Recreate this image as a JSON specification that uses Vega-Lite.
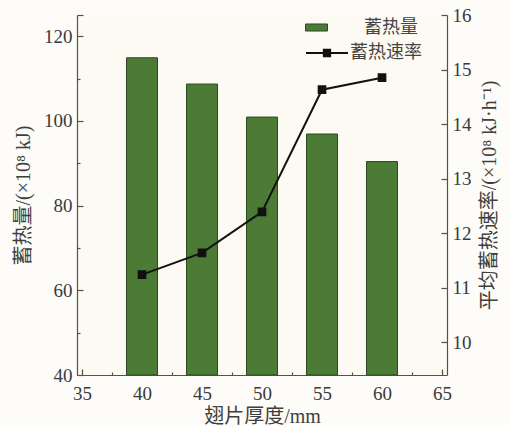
{
  "$schema": "https://vega.github.io/schema/vega-lite/v6.json",
  "width": 370,
  "height": 360,
  "autosize": "none",
  "padding": {"left": 77, "top": 15, "right": 62, "bottom": 51},
  "background": "#fdfcf8",
  "config": {
    "view": {"stroke": null, "fill": "#fcfaf3"},
    "axis": {
      "labelFont": "Liberation Serif",
      "labelFontSize": 19,
      "labelColor": "#3a3a3a",
      "titleFont": "Liberation Serif, Noto Sans CJK SC",
      "titleFontSize": 20,
      "titleFontWeight": "normal",
      "titleColor": "#3f3f3f",
      "domainColor": "#5a5048",
      "tickColor": "#5a5048",
      "domainWidth": 1.2,
      "tickWidth": 1.2,
      "grid": false
    },
    "legend": {
      "labelFont": "Noto Sans CJK SC",
      "labelFontSize": 18,
      "labelColor": "#444444"
    }
  },
  "data": {
    "values": [
      {"t": 40, "q": 114.9, "r": 11.24},
      {"t": 45, "q": 108.7, "r": 11.64},
      {"t": 50, "q": 100.9, "r": 12.39},
      {"t": 55, "q": 96.9, "r": 14.63},
      {"t": 60, "q": 90.4, "r": 14.85}
    ]
  },
  "encoding": {
    "x": {
      "field": "t",
      "type": "quantitative",
      "scale": {"domain": [35, 65], "nice": false, "zero": false},
      "axis": {
        "title": "翅片厚度/mm",
        "values": [35, 37.5, 40, 42.5, 45, 47.5, 50, 52.5, 55, 57.5, 60, 62.5, 65],
        "labelExpr": "datum.value % 5 === 0 ? datum.label : ''",
        "tickSize": {"condition": {"test": "datum.value % 5 === 0", "value": -6}, "value": -3},
        "labelPadding": 15,
        "titlePadding": 3,
        "labelFlush": false
      }
    }
  },
  "layer": [
    {
      "mark": {"type": "bar", "width": 31, "stroke": "#2f4a22", "strokeWidth": 1},
      "encoding": {
        "y": {
          "field": "q",
          "type": "quantitative",
          "scale": {"domain": [40, 125], "nice": false, "zero": false},
          "axis": {
            "title": "蓄热量/(×10⁸ kJ)",
            "orient": "left",
            "values": [40, 50, 60, 70, 80, 90, 100, 110, 120, 125],
            "labelExpr": "datum.value % 20 === 0 ? datum.label : ''",
            "tickSize": {"condition": {"test": "datum.value % 20 === 0 || datum.value === 125", "value": -6}, "value": -3},
            "labelPadding": 11,
            "titlePadding": 10
          }
        },
        "y2": {"datum": 40},
        "fill": {
          "datum": "蓄热量",
          "scale": {"range": ["#4b7b35"]},
          "legend": {
            "title": null,
            "orient": "none",
            "legendX": 228,
            "legendY": 1,
            "symbolType": "M-1,-0.32H1V0.32H-1Z",
            "symbolSize": 484,
            "symbolStrokeColor": "#2f4a22",
            "symbolStrokeWidth": 1,
            "labelOffset": 36
          }
        }
      }
    },
    {
      "mark": {
        "type": "line",
        "color": "#111111",
        "strokeWidth": 2,
        "point": {"shape": "square", "size": 45, "filled": true, "color": "#111111"}
      },
      "encoding": {
        "y": {
          "field": "r",
          "type": "quantitative",
          "scale": {"domain": [9.4, 16], "nice": false, "zero": false},
          "axis": {
            "title": "平均蓄热速率/(×10⁸ kJ·h⁻¹)",
            "orient": "right",
            "values": [10, 11, 12, 13, 14, 15, 16],
            "tickSize": -6,
            "labelPadding": 11,
            "titleAngle": 270,
            "titleBaseline": "top",
            "titlePadding": 8
          }
        },
        "stroke": {
          "datum": "蓄热速率",
          "scale": {"range": ["#111111"]},
          "legend": {
            "title": null,
            "orient": "none",
            "legendX": 228,
            "legendY": 16,
            "symbolType": "M-1,0H-0.15M0.15,0H1M-0.15,-0.15H0.15V0.15H-0.15Z",
            "symbolSize": 1764,
            "symbolFillColor": "#111111",
            "symbolStrokeColor": "#111111",
            "symbolStrokeWidth": 2,
            "labelOffset": 1
          }
        }
      }
    }
  ],
  "resolve": {"scale": {"y": "independent", "fill": "independent", "stroke": "independent"}}
}
